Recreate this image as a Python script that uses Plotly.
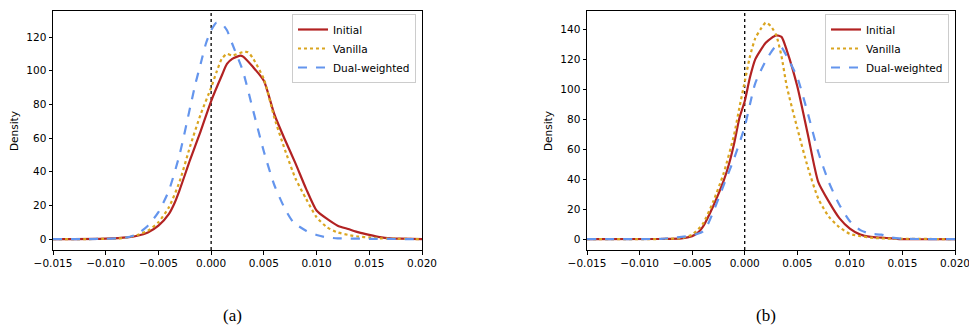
import plotly.graph_objects as go

# ---------------- data ----------------
# panel (a)
a_init_x = [-0.015, -0.010, -0.008, -0.007, -0.006, -0.005, -0.004, -0.0035, -0.003, -0.002, -0.001, 0.0,
            0.001, 0.0015, 0.002, 0.0028, 0.003, 0.004, 0.005, 0.006, 0.007, 0.008, 0.009, 0.010,
            0.011, 0.012, 0.013, 0.014, 0.015, 0.016, 0.017, 0.018, 0.020]
a_init_y = [0, 0.3, 1, 2, 4, 8, 15, 21, 29, 47, 64, 82,
            97, 104, 107, 109, 108.5, 102, 94, 74, 59, 45, 30, 17,
            12, 8, 6, 4, 2.5, 1.2, 0.5, 0.3, 0]

a_van_x = [-0.015, -0.009, -0.008, -0.007, -0.006, -0.005, -0.004, -0.003, -0.002, -0.001, 0.0, 0.0005,
           0.001, 0.0015, 0.002, 0.003, 0.0035, 0.004, 0.005, 0.006, 0.007, 0.008, 0.009, 0.010,
           0.011, 0.012, 0.013, 0.014, 0.015, 0.016, 0.020]
a_van_y = [0, 0.3, 1, 2.5, 5, 10, 19, 34, 55, 74, 90, 99,
           107, 110, 109, 111, 111, 107, 95, 72, 53, 36, 24, 13,
           7, 4, 2.5, 1.5, 1, 0.5, 0]

a_dual_x = [-0.015, -0.010, -0.008, -0.007, -0.006, -0.005, -0.004, -0.003, -0.002, -0.0015, -0.001, -0.0005,
            0.0, 0.0005, 0.001, 0.0015, 0.002, 0.003, 0.004, 0.005, 0.006, 0.007, 0.0078, 0.009,
            0.010, 0.011, 0.012, 0.015, 0.020]
a_dual_y = [0, 0.2, 1, 3, 8, 16, 29, 50, 78, 92, 104, 116,
            124, 128.5, 128, 124, 116, 100, 76, 52, 32, 18, 10, 5,
            2.5, 1, 0.5, 0.2, 0]

# panel (b)
b_init_x = [-0.015, -0.008, -0.006, -0.005, -0.0045, -0.004, -0.003, -0.002, -0.0015, -0.001, -0.0005, 0.0,
            0.0005, 0.001, 0.0015, 0.002, 0.0025, 0.003, 0.0035, 0.004, 0.005, 0.006, 0.007, 0.008,
            0.009, 0.010, 0.011, 0.012, 0.013, 0.014, 0.015, 0.020]
b_init_y = [0, 0.1, 0.5, 2, 4, 8, 22, 39, 50, 64, 81, 92,
            108, 120, 126, 131, 134, 136, 135, 126, 102, 70, 38, 25,
            14, 7, 3, 1.5, 1, 0.5, 0, 0]

b_van_x = [-0.015, -0.008, -0.006, -0.005, -0.004, -0.003, -0.002, -0.001, -0.0005, 0.0, 0.0005, 0.001,
           0.0015, 0.002, 0.0025, 0.003, 0.0035, 0.004, 0.005, 0.006, 0.007, 0.008, 0.009, 0.010,
           0.011, 0.012, 0.013, 0.020]
b_van_y = [0, 0.1, 0.7, 3, 10, 25, 44, 70, 88, 105, 122, 134,
           140, 144.5, 142, 136, 122, 102, 74, 48, 27, 15, 8, 3.5,
           2, 1, 0.5, 0]

b_dual_x = [-0.015, -0.008, -0.007, -0.006, -0.005, -0.004, -0.0035, -0.003, -0.002, -0.001, 0.0, 0.0005,
            0.001, 0.002, 0.003, 0.0035, 0.004, 0.005, 0.006, 0.007, 0.008, 0.009, 0.010, 0.011,
            0.012, 0.013, 0.014, 0.015, 0.020]
b_dual_y = [0, 0.2, 0.8, 1.5, 2.5, 5, 10, 18, 36, 54, 75, 90,
            104, 119, 129, 128, 122, 108, 84, 58, 38, 23, 12, 6,
            3.5, 3, 1, 0.3, 0]

series_names = ["Initial", "Vanilla", "Dual-weighted"]
x_tickvals = [-0.015, -0.010, -0.005, 0.0, 0.005, 0.010, 0.015, 0.020]
x_ticktext = ["\u22120.015", "\u22120.010", "\u22120.005", "0.000", "0.005", "0.010", "0.015", "0.020"]
a_ytickvals = [0, 20, 40, 60, 80, 100, 120]
b_ytickvals = [0, 20, 40, 60, 80, 100, 120, 140]
captions = ["(a)", "(b)"]

# ---------------- styling ----------------
W, H = 969, 327
colors = ["#b22222", "#daa520", "#6495ed"]
dashes = ["solid", "dot", "dash"]
FONT = "DejaVu Sans"

fig = go.Figure()

panels = [
    (a_init_x, a_init_y, a_van_x, a_van_y, a_dual_x, a_dual_y),
    (b_init_x, b_init_y, b_van_x, b_van_y, b_dual_x, b_dual_y),
]
for p, data in enumerate(panels):
    xa = "x" if p == 0 else "x2"
    ya = "y" if p == 0 else "y2"
    lg = "legend" if p == 0 else "legend2"
    for k in range(3):
        fig.add_trace(go.Scatter(
            x=data[2 * k], y=data[2 * k + 1], mode="lines", name=series_names[k],
            line=dict(color=colors[k], width=2.2, dash=dashes[k], shape="spline", smoothing=0.6),
            xaxis=xa, yaxis=ya, legend=lg, showlegend=True))

def px_x(v):
    return v / W

def px_y(v):
    return 1 - v / H

dom_a = [px_x(53), px_x(422)]
dom_b = [px_x(587), px_x(955)]
dom_y = [px_y(250), px_y(11)]

axis_common = dict(showgrid=False, zeroline=False, showline=True, linecolor="black", linewidth=1,
                   mirror=True, ticks="outside", ticklen=3.5, tickwidth=1, tickcolor="black",
                   automargin=False, ticklabeloverflow="allow",
                   tickfont=dict(family=FONT, size=10.5, color="black"))

legend_common = dict(xanchor="right", yanchor="top",
                     bgcolor="rgba(255,255,255,0.8)", bordercolor="#cccccc", borderwidth=1,
                     font=dict(family=FONT, size=10.5, color="black"), tracegroupgap=0,
                     itemwidth=30)

fig.update_layout(
    width=W, height=H, margin=dict(l=0, r=0, t=0, b=0, autoexpand=False),
    paper_bgcolor="white", plot_bgcolor="white",
    font=dict(family=FONT, color="black"),
    xaxis=dict(domain=dom_a, range=[-0.015, 0.020], tickvals=x_tickvals, ticktext=x_ticktext,
               anchor="y", **axis_common),
    yaxis=dict(domain=dom_y, range=[-6.45, 135.45], tickvals=a_ytickvals, anchor="x", **axis_common),
    xaxis2=dict(domain=dom_b, range=[-0.015, 0.020], tickvals=x_tickvals, ticktext=x_ticktext,
                anchor="y2", **axis_common),
    yaxis2=dict(domain=dom_y, range=[-7.25, 152.25], tickvals=b_ytickvals, anchor="x2", **axis_common),
    legend=dict(x=px_x(416), y=px_y(14), **legend_common),
    legend2=dict(x=px_x(949), y=px_y(14), **legend_common),
)

# vertical dotted reference lines at x = 0
for xa, ya in [("x", "y"), ("x2", "y2")]:
    fig.add_shape(type="line", x0=0, x1=0, y0=0, y1=1, xref=xa, yref=ya + " domain",
                  line=dict(color="black", width=1.3, dash="dot"), layer="below")

# y-axis titles
for xp in [14, 548]:
    fig.add_annotation(text="Density", x=px_x(xp), y=px_y(131), xref="paper", yref="paper",
                       textangle=-90, showarrow=False, xanchor="center", yanchor="middle",
                       font=dict(family=FONT, size=10.5, color="black"))

# captions
for cap, xp in zip(captions, [232, 766]):
    fig.add_annotation(text=cap, x=px_x(xp), y=px_y(315), xref="paper", yref="paper",
                       showarrow=False, xanchor="center", yanchor="middle",
                       font=dict(family="Liberation Serif", size=17, color="black"))

fig.write_html("out.html", config={"displayModeBar": False},
               post_script="document.body.style.margin='0px';")
